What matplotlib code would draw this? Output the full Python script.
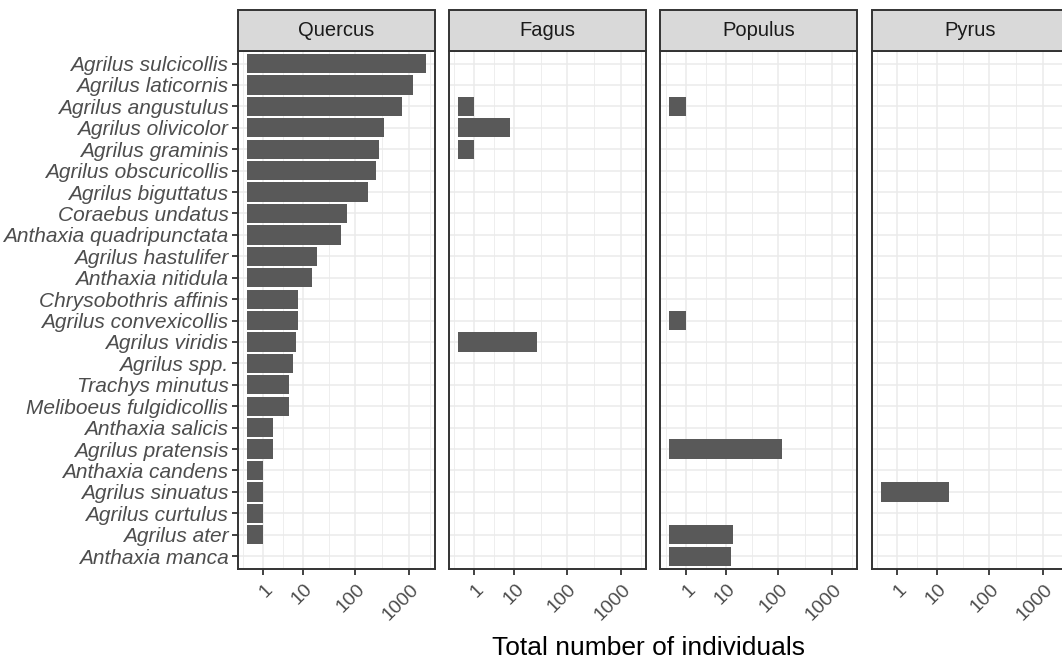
#
# plot.py
# Buprestid species counts per host tree, faceted bars on a log(x+1) axis.

import traceback
import numpy as np
import matplotlib
matplotlib.use("Agg")
import matplotlib.pyplot as plt
from matplotlib.patches import Rectangle
from matplotlib.ticker import NullFormatter
from matplotlib.transforms import ScaledTranslation

species = [
  "Agrilus sulcicollis", "Agrilus laticornis", "Agrilus angustulus",
  "Agrilus olivicolor", "Agrilus graminis", "Agrilus obscuricollis",
  "Agrilus biguttatus", "Coraebus undatus", "Anthaxia quadripunctata",
  "Agrilus hastulifer", "Anthaxia nitidula", "Chrysobothris affinis",
  "Agrilus convexicollis", "Agrilus viridis", "Agrilus spp.",
  "Trachys minutus", "Meliboeus fulgidicollis", "Anthaxia salicis",
  "Agrilus pratensis", "Anthaxia candens", "Agrilus sinuatus",
  "Agrilus curtulus", "Agrilus ater", "Anthaxia manca",
]

hosts = ["Quercus", "Fagus", "Populus", "Pyrus"]

# 0 = species not recorded on that host
quercus = [2000, 1170, 730, 340, 280, 245, 175, 71, 53, 19, 15, 8,
           8, 7, 6, 5, 5, 2, 2, 1, 1, 1, 1, 0]
fagus   = [0, 0, 1, 8, 1, 0, 0, 0, 0, 0, 0, 0,
           0, 28, 0, 0, 0, 0, 0, 0, 0, 0, 0, 0]
populus = [0, 0, 1, 0, 0, 0, 0, 0, 0, 0, 0, 0,
           1, 0, 0, 0, 0, 0, 120, 0, 0, 0, 14, 13]
pyrus   = [0, 0, 0, 0, 0, 0, 0, 0, 0, 0, 0, 0,
           0, 0, 0, 0, 0, 0, 0, 0, 17, 0, 0, 0]

x_breaks = [1, 10, 100, 1000]

W, H = 1062, 665
BAR = "#595959"
STRIP = "#D9D9D9"
BORDER = "#333333"
GRID = "#EBEBEB"
TEXT = "#4D4D4D"


def fwd(x):
  return np.log10(np.clip(np.asarray(x, dtype=float) + 1, 1e-12, None))


def inv(t):
  return 10 ** np.asarray(t, dtype=float) - 1


def minor_breaks(tb, lo, hi):
  # midpoints between the major breaks, extended one step each side (ggplot style)
  b = list(tb)
  bd = b[1] - b[0]
  if lo < b[0]:
    b = [b[0] - bd] + b
  if hi > b[-1]:
    b = b + [b[-1] + bd]
  mids = [(b[i] + b[i + 1]) / 2 for i in range(len(b) - 1)]
  return [m for m in mids if lo <= m <= hi]


def draw_panel(fig, idx, host, values, t_lo, t_hi):
  left = 237.7 + idx * 211.3
  top, bottom = 50.7, 569.0
  ph = bottom - top
  ax = fig.add_axes([left / W, 1 - bottom / H, 197 / W, ph / H])

  y = np.arange(len(species))
  v = np.asarray(values, dtype=float)
  m = v > 0
  ax.barh(y[m], v[m], left=0, height=0.9, color=BAR, zorder=2)

  ax.set_xscale("function", functions=(fwd, inv))
  ax.set_xlim(inv(t_lo), inv(t_hi))
  ax.set_ylim(len(species) - 1 + 0.6, -0.6)

  tb = fwd(x_breaks)
  ax.set_xticks(x_breaks)
  ax.set_xticklabels([str(b) for b in x_breaks])
  ax.set_xticks(inv(minor_breaks(list(tb), t_lo, t_hi)), minor=True)
  ax.xaxis.set_minor_formatter(NullFormatter())
  ax.set_yticks(y)

  ax.set_axisbelow(True)
  ax.grid(which="major", color=GRID, linewidth=1.1)
  ax.grid(which="minor", axis="x", color=GRID, linewidth=0.6)

  for s in ax.spines.values():
    s.set_color(BORDER)
    s.set_linewidth(1.4)
    s.set_zorder(5)

  ax.tick_params(axis="x", which="major", length=4.3, width=1.3, color=BORDER,
                 pad=8.6, labelsize=14, labelcolor=TEXT, labelrotation=45)
  ax.tick_params(axis="x", which="minor", length=0)
  offset = ScaledTranslation(7 / 100, 0, fig.dpi_scale_trans)
  for tk in ax.xaxis.get_major_ticks():
    lbl = tk.label1
    lbl.set_ha("right")
    lbl.set_va("center")
    lbl.set_rotation_mode("anchor")
    lbl.set_transform(lbl.get_transform() + offset)

  if idx == 0:
    ax.set_yticklabels(species, fontstyle="italic")
    ax.tick_params(axis="y", length=4.3, width=1.3, color=BORDER, pad=2.4,
                   labelsize=15, labelcolor=TEXT)
  else:
    ax.tick_params(axis="y", length=0, labelleft=False)

  # facet strip
  sh = 41.0 / ph
  ax.add_patch(Rectangle((0, 1), 1, sh, transform=ax.transAxes, clip_on=False,
                         facecolor=STRIP, edgecolor=BORDER, linewidth=1.4, zorder=6))
  ax.text(0.5, 1 + sh / 2, host, transform=ax.transAxes, ha="center", va="center",
          fontsize=14.5, color="#1A1A1A", zorder=7)
  return ax


def plot_counts():
  plt.rcParams["font.family"] = ["Liberation Sans", "DejaVu Sans"]
  fig = plt.figure(figsize=(W / 100, H / 100), dpi=100)

  series = [quercus, fagus, populus, pyrus]
  t_max = max(fwd(max(s)) for s in series)
  t_lo, t_hi = -0.05 * t_max, 1.05 * t_max

  for i, (host, vals) in enumerate(zip(hosts, series)):
    draw_panel(fig, i, host, vals, t_lo, t_hi)

  fig.text(649 / W, 1 - 655 / H, "Total number of individuals",
           ha="center", va="baseline", fontsize=19, color="black")
  fig.savefig("out.png", dpi=100)


if __name__ == "__main__":
  try:
    plot_counts()
  except:
    traceback.print_exc()
